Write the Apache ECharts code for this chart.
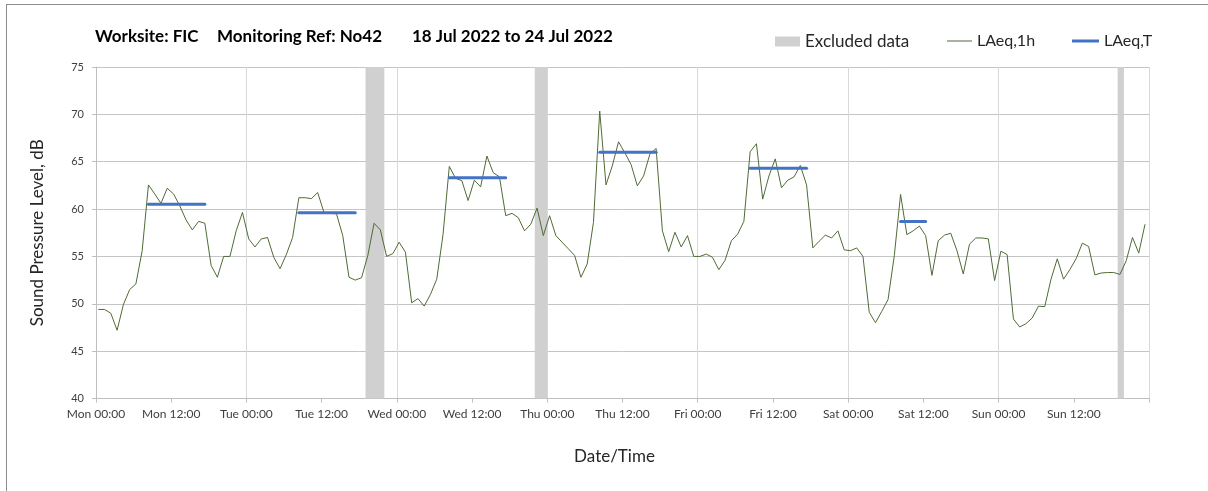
<!DOCTYPE html>
<html>
<head>
<meta charset="utf-8">
<script src="https://cdn.jsdelivr.net/npm/echarts@6/dist/echarts.min.js"></script>
<style>
html,body{margin:0;padding:0;background:#ffffff;overflow:hidden;}
#frame{position:absolute;left:6px;top:4px;width:1400px;height:700px;border:1px solid #8c8c8c;box-sizing:border-box;}
#chart{position:absolute;left:0;top:0;width:1208px;height:491px;}
</style>
</head>
<body>
<div id="frame"></div>
<div id="chart"></div>
<script>
// ---------- data ----------
const dayNames = ['Mon', 'Tue', 'Wed', 'Thu', 'Fri', 'Sat', 'Sun'];
const sampleMinute = 22; // minute past each hour at which the hourly sample is stamped

// LAeq,1h hourly values, Mon 18 Jul 00:00 .. Sun 24 Jul 23:00 (168 hours)
const laeq1h = [
  49.4, 49.4, 49.0, 47.2, 49.9, 51.5, 52.1, 55.6, 62.55, 61.6, 60.6, 62.2,
  61.6, 60.35, 58.85, 57.8, 58.7, 58.5, 54.05, 52.8, 55.0, 55.0, 57.7, 59.65,
  56.85, 56.0, 56.85, 57.0, 54.9, 53.7, 55.2, 57.0, 61.2, 61.2, 61.1, 61.75,
  59.65, 59.55, 59.5, 57.2, 52.8, 52.5, 52.75, 55.1, 58.5, 57.8, 55.0, 55.3,
  56.5, 55.45, 50.1, 50.55, 49.75, 51.0, 52.6, 57.3, 64.5, 63.25, 63.0, 60.9,
  63.05, 62.35, 65.6, 63.85, 63.4, 59.3, 59.55, 59.1, 57.7, 58.4, 60.1, 57.2,
  59.3, 57.2, 56.5, 55.8, 55.1, 52.8, 54.2, 58.6, 70.35, 62.55, 64.55, 67.1,
  65.95, 64.7, 62.45, 63.5, 65.8, 66.4, 57.7, 55.5, 57.55, 56.0, 57.2, 55.0,
  55.0, 55.25, 54.9, 53.6, 54.6, 56.65, 57.35, 58.7, 66.05, 66.9, 61.05, 63.5,
  65.3, 62.25, 63.05, 63.4, 64.6, 62.55, 55.9, 56.6, 57.25, 56.95, 57.7, 55.7,
  55.6, 55.9, 55.0, 49.1, 48.0, 49.2, 50.45, 55.1, 61.55, 57.3, 57.7, 58.2,
  57.2, 53.0, 56.65, 57.25, 57.45, 55.6, 53.15, 56.3, 56.95, 56.95, 56.85, 52.45,
  55.55, 55.2, 48.4, 47.55, 47.9, 48.5, 49.75, 49.7, 52.6, 54.75, 52.6, 53.6,
  54.75, 56.4, 56.05, 53.05, 53.25, 53.3, 53.3, 53.1, 54.55, 57.0, 55.35, 58.4
];

// LAeq,T periods (first and last hourly sample index of each period) and levels
const periodStartHour = [8, 32, 56, 80, 104, 128];
const periodEndHour   = [17, 41, 65, 89, 113, 132];
const periodLevel     = [60.5, 59.6, 63.3, 66.0, 64.3, 58.7];

// Excluded data (hours since Mon 00:00)
const excludedStart = [43, 70, 163];
const excludedEnd   = [46, 72, 164];

// axis settings
const yMin = 40, yMax = 75, yStep = 5;
const xMin = 0, xMax = 168, xStep = 12;

// ---------- build ----------
const sampleTime = h => h + sampleMinute / 60;
const lineData = laeq1h.map((v, i) => [sampleTime(i), v]);

const FONT = 'Lato';
const greyText = '#404040';
const GREEN = '#4f6b35';
const BLUE = '#4472C4';
const EXCL = '#d0d0d0';

const tSeries = periodLevel.map((lvl, k) => ({
  type: 'line',
  name: 'LAeq,T',
  symbol: 'none',
  silent: true,
  z: 4,
  lineStyle: { color: BLUE, width: 3, cap: 'round' },
  itemStyle: { color: BLUE },
  data: [[sampleTime(periodStartHour[k]), lvl], [sampleTime(periodEndHour[k]), lvl]]
}));

const titleStyle = { fontFamily: FONT, fontSize: 17, fontWeight: 'bold', color: '#000' };
const legendText = { fontFamily: FONT, fontSize: 16, color: '#262626' };

const option = {
  animation: false,
  textStyle: { fontFamily: FONT },
  title: [
    { text: 'Worksite: FIC', left: 95, top: 28, padding: 0, textStyle: titleStyle },
    { text: 'Monitoring Ref: No42', left: 217, top: 28, padding: 0, textStyle: titleStyle },
    { text: '18 Jul 2022 to 24 Jul 2022', left: 412, top: 28, padding: 0, textStyle: titleStyle }
  ],
  legend: [
    { left: 775, top: 33, padding: 0, itemWidth: 25, itemHeight: 10, itemGap: 0,
      textStyle: Object.assign({}, legendText, { fontSize: 17 }),
      data: [{ name: 'Excluded data', icon: 'rect', itemStyle: { color: EXCL } }] },
    { left: 947, top: 33, padding: 0, itemWidth: 25, itemHeight: 1, itemGap: 0,
      textStyle: legendText,
      data: [{ name: 'LAeq,1h', icon: 'rect', itemStyle: { color: GREEN } }] },
    { left: 1072, top: 33, padding: 0, itemWidth: 27, itemHeight: 3, itemGap: 0,
      textStyle: legendText,
      data: [{ name: 'LAeq,T', icon: 'rect', itemStyle: { color: BLUE } }] }
  ],
  grid: { left: 96, right: 59, top: 67, bottom: 92.5, containLabel: false },
  xAxis: [
    {
      type: 'value', min: xMin, max: xMax, interval: xStep,
      name: 'Date/Time', nameLocation: 'middle', nameGap: 50,
      nameTextStyle: { fontFamily: FONT, fontSize: 17, color: '#262626', padding: [0, 16, 0, 0] },
      axisLine: { show: true, lineStyle: { color: '#bfbfbf', width: 1 } },
      axisTick: { show: true, length: 4, lineStyle: { color: '#bfbfbf' } },
      splitLine: { show: false },
      axisLabel: {
        fontFamily: FONT, fontSize: 12, color: greyText, margin: 10,
        formatter: v => v >= xMax ? '' : dayNames[Math.floor(v / 24) % 7] + ' ' + (v % 24 === 0 ? '00:00' : '12:00')
      }
    },
    {
      type: 'value', min: xMin, max: xMax, interval: 24, position: 'bottom',
      axisLine: { show: false }, axisTick: { show: false }, axisLabel: { show: false },
      splitLine: { show: true, lineStyle: { color: '#d9d9d9', width: 1 } }
    }
  ],
  yAxis: {
    type: 'value', min: yMin, max: yMax, interval: yStep,
    name: 'Sound Pressure Level, dB', nameLocation: 'middle', nameGap: 50,
    nameTextStyle: { fontFamily: FONT, fontSize: 17, color: '#262626' },
    axisLine: { show: true, lineStyle: { color: '#bfbfbf', width: 1 } },
    axisTick: { show: true, length: 4, lineStyle: { color: '#bfbfbf' } },
    axisLabel: { fontFamily: FONT, fontSize: 11, color: greyText, margin: 12 },
    splitLine: { show: true, lineStyle: { color: '#c4c4c4', width: 1 } }
  },
  series: [
    {
      type: 'custom',
      name: 'Excluded data',
      silent: true,
      z: 1,
      itemStyle: { color: EXCL },
      encode: { x: [0, 1] },
      data: excludedStart.map((s, i) => [s, excludedEnd[i]]),
      renderItem: (params, api) => {
        const p0 = api.coord([api.value(0), yMax]);
        const p1 = api.coord([api.value(1), yMin]);
        return { type: 'rect', shape: { x: p0[0], y: p0[1], width: p1[0] - p0[0], height: p1[1] - p0[1] }, style: { fill: EXCL } };
      }
    },
    {
      type: 'line',
      name: 'LAeq,1h',
      symbol: 'none',
      silent: true,
      z: 3,
      lineStyle: { color: GREEN, width: 1 },
      itemStyle: { color: GREEN },
      data: lineData
    }
  ].concat(tSeries)
};

const chart = echarts.init(document.getElementById('chart'), null, { renderer: 'canvas' });
chart.setOption(option);
</script>
</body>
</html>
